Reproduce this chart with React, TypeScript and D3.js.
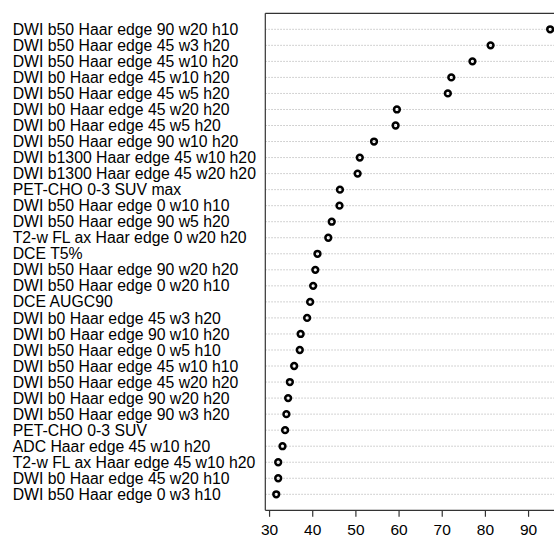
import React from "react";
import * as d3 from "d3";

const features: string[] = [
  "DWI b50 Haar edge 90 w20 h10",
  "DWI b50 Haar edge 45 w3 h20",
  "DWI b50 Haar edge 45 w10 h20",
  "DWI b0 Haar edge 45 w10 h20",
  "DWI b50 Haar edge 45 w5 h20",
  "DWI b0 Haar edge 45 w20 h20",
  "DWI b0 Haar edge 45 w5 h20",
  "DWI b50 Haar edge 90 w10 h20",
  "DWI b1300 Haar edge 45 w10 h20",
  "DWI b1300 Haar edge 45 w20 h20",
  "PET-CHO 0-3 SUV max",
  "DWI b50 Haar edge 0 w10 h10",
  "DWI b50 Haar edge 90 w5 h20",
  "T2-w FL ax Haar edge 0 w20 h20",
  "DCE T5%",
  "DWI b50 Haar edge 90 w20 h20",
  "DWI b50 Haar edge 0 w20 h10",
  "DCE AUGC90",
  "DWI b0 Haar edge 45 w3 h20",
  "DWI b0 Haar edge 90 w10 h20",
  "DWI b50 Haar edge 0 w5 h10",
  "DWI b50 Haar edge 45 w10 h10",
  "DWI b50 Haar edge 45 w20 h20",
  "DWI b0 Haar edge 90 w20 h20",
  "DWI b50 Haar edge 90 w3 h20",
  "PET-CHO 0-3 SUV",
  "ADC Haar edge 45 w10 h20",
  "T2-w FL ax Haar edge 45 w10 h20",
  "DWI b0 Haar edge 45 w20 h10",
  "DWI b50 Haar edge 0 w3 h10",
];

const importance: number[] = [
  95.0, 81.2, 77.0, 72.1, 71.3, 59.5, 59.2, 54.2, 50.9, 50.4,
  46.3, 46.2, 44.4, 43.6, 41.1, 40.6, 40.1, 39.4, 38.7, 37.2,
  37.0, 35.7, 34.7, 34.3, 33.9, 33.6, 33.0, 32.0, 32.0, 31.55,
];

const xTicks: number[] = [30, 40, 50, 60, 70, 80, 90];

const W = 554;
const H = 536;
const FONT = "'Liberation Sans', Arial, Helvetica, sans-serif";

export default function App() {
  const lo = d3.min(importance) as number;
  const hi = d3.max(importance) as number;
  const pad = (hi - lo) * 0.04;
  const left = 265.3;
  const pxPerUnit = 4.3167;
  const x = d3
    .scaleLinear()
    .domain([lo - pad, hi + pad])
    .range([left, left + (hi - lo + 2 * pad) * pxPerUnit]);
  const y = d3.scalePoint<string>().domain(features).range([29.3, 494.3]);
  const top = 13.3;
  const bottom = 510.3;
  const right = x.range()[1];

  return (
    <svg
      width={W}
      height={H}
      style={{ position: "fixed", left: 0, top: 0, background: "#fff" }}
      fontFamily={FONT}
    >
      <rect x={0} y={0} width={W} height={H} fill="#fff" />
      {features.map((f) => (
        <g key={f}>
          <line
            x1={left}
            x2={right}
            y1={y(f)}
            y2={y(f)}
            stroke="#c4c4c4"
            strokeWidth={1}
            strokeDasharray="1.5,1.5"
          />
          <text x={12.7} y={(y(f) as number) + 5.6} fontSize={15.8} fill="#000">
            {f}
          </text>
        </g>
      ))}
      {features.map((f, i) => (
        <circle
          key={"c" + f}
          cx={x(importance[i])}
          cy={y(f)}
          r={2.9}
          fill="none"
          stroke="#000"
          strokeWidth={2.5}
        />
      ))}
      <line x1={left} x2={left} y1={top} y2={bottom} stroke="#333" strokeWidth={1.2} />
      <line x1={left} x2={right} y1={top} y2={top} stroke="#333" strokeWidth={1.2} />
      <line x1={left} x2={right} y1={bottom} y2={bottom} stroke="#333" strokeWidth={1.2} />
      {xTicks.map((t) => (
        <g key={t}>
          <line x1={x(t)} x2={x(t)} y1={bottom} y2={bottom + 6.5} stroke="#333" strokeWidth={1.2} />
          <text x={x(t)} y={534.5} fontSize={15.5} textAnchor="middle" fill="#000">
            {t}
          </text>
        </g>
      ))}
    </svg>
  );
}
